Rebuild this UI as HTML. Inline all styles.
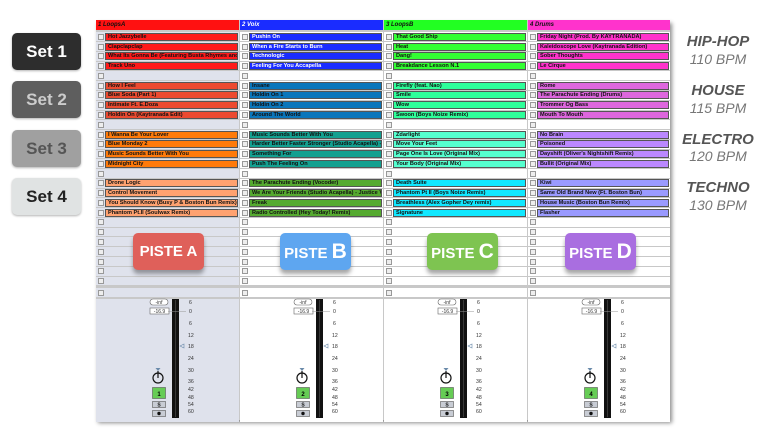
<!DOCTYPE html>
<html><head><meta charset="utf-8"><style>
*{margin:0;padding:0;box-sizing:border-box}
body{width:768px;height:443px;background:#fff;position:relative;overflow:hidden;font-family:"Liberation Sans",sans-serif}
.set{position:absolute;left:12px;width:69px;height:37px;border-radius:5px;font-weight:bold;font-size:17px;text-align:center;line-height:37px;box-shadow:0 1px 2px rgba(0,0,0,.3)}
.g{position:absolute;left:672px;width:92px;text-align:center;font-style:italic;color:#555}
.g1{font-weight:bold;font-size:15px}
.g2{font-size:14px;color:#777;font-weight:normal}
#panel{position:absolute;left:96px;top:20px;width:574px;height:400px;background:#c8c8c8;box-shadow:2px 3px 4px rgba(0,0,0,.45)}
.col{position:absolute;top:0;width:143px;height:400px}
.hd{height:10px;font-size:6px;font-style:italic;font-weight:bold;line-height:10px;padding-left:2px;color:#111;margin-bottom:2.4px}
.r{height:9.78px;position:relative;border-bottom:1px solid #c8c8c8}
.r i{position:absolute;left:2px;top:1.5px;width:6px;height:6px;border:1px solid #999;background:#eee}
.c{position:absolute;left:9px;right:1px;top:0.5px;height:8px;border:1px solid #555;font-size:5.6px;font-weight:bold;line-height:6px;padding-left:2px;white-space:nowrap;overflow:hidden;color:#111}
.e{background:#fff}
.l .e{background:#dfe2ec}
.badge{position:absolute;top:233px;width:71px;height:37px;border-radius:5px;color:#fff;font-weight:bold;font-size:15px;text-align:center;line-height:37px;box-shadow:0 4px 4px rgba(0,0,0,.35)}
.badge b{font-size:21px}
</style></head><body>
<div class="set" style="top:33px;background:#2d2d2d;color:#fff">Set 1</div>
<div class="set" style="top:81px;background:#5e5e5e;color:#ccc">Set 2</div>
<div class="set" style="top:130px;background:#a0a0a0;color:#555">Set 3</div>
<div class="set" style="top:178px;background:#e0e3e3;color:#222">Set 4</div>

<div class="g g1" style="top:33px">HIP-HOP</div><div class="g g2" style="top:51px">110 BPM</div>
<div class="g g1" style="top:82px">HOUSE</div><div class="g g2" style="top:100px">115 BPM</div>
<div class="g g1" style="top:131px">ELECTRO</div><div class="g g2" style="top:148px">120 BPM</div>
<div class="g g1" style="top:179px">TECHNO</div><div class="g g2" style="top:197px">130 BPM</div>

<div id="panel">
<div class="col l" style="left:0">
<div class="hd" style="background:#ff1111">1 LoopsA</div>
<div class="r e"><i></i><div class="c" style="background:#ff1a1a">Hot Jazzybelle</div></div>
<div class="r e"><i></i><div class="c" style="background:#ff1a1a">Clapclapclap</div></div>
<div class="r e"><i></i><div class="c" style="background:#ff1a1a">What Its Gonna Be (Featuring Busta Rhymes and Janelle Monae)</div></div>
<div class="r e"><i></i><div class="c" style="background:#ff1a1a">Track Uno</div></div>
<div class="r e"><i></i></div>
<div class="r e"><i></i><div class="c" style="background:#ec4a30">How I Feel</div></div>
<div class="r e"><i></i><div class="c" style="background:#ec4a30">Blue Soda (Part 1)</div></div>
<div class="r e"><i></i><div class="c" style="background:#ec4a30">Intimate Ft. E.Doza</div></div>
<div class="r e"><i></i><div class="c" style="background:#ec4a30">Holdin On (Kaytranada Edit)</div></div>
<div class="r e"><i></i></div>
<div class="r e"><i></i><div class="c" style="background:#ff7a0a">I Wanna Be Your Lover</div></div>
<div class="r e"><i></i><div class="c" style="background:#ff7a0a">Blue Monday 2</div></div>
<div class="r e"><i></i><div class="c" style="background:#ff7a0a">Music Sounds Better With You</div></div>
<div class="r e"><i></i><div class="c" style="background:#ff7a0a">Midnight City</div></div>
<div class="r e"><i></i></div>
<div class="r e"><i></i><div class="c" style="background:#ffa270">Drone Logic</div></div>
<div class="r e"><i></i><div class="c" style="background:#ffa270">Control Movement</div></div>
<div class="r e"><i></i><div class="c" style="background:#ffa270">You Should Know (Busy P &amp; Boston Bun Remix)</div></div>
<div class="r e"><i></i><div class="c" style="background:#ffa270">Phantom Pt.II (Soulwax Remix)</div></div>
<div class="r e"><i></i></div><div class="r e"><i></i></div><div class="r e"><i></i></div><div class="r e"><i></i></div><div class="r e"><i></i></div><div class="r e"><i></i></div><div class="r e"><i></i></div>
<div style="height:2px"></div>
<div class="r e"><i></i></div>
<div style="height:124px;background:#dfe2ec;border-top:1px solid #c8c8c8"></div>
</div>

<div class="col" style="left:144px">
<div class="hd" style="background:#1a2cff;color:#fff">2 Voix</div>
<div class="r e"><i></i><div class="c" style="background:#1a2cff;color:#fff">Pushin On</div></div>
<div class="r e"><i></i><div class="c" style="background:#1a2cff;color:#fff">When a Fire Starts to Burn</div></div>
<div class="r e"><i></i><div class="c" style="background:#1a2cff;color:#fff">Technologic</div></div>
<div class="r e"><i></i><div class="c" style="background:#1a2cff;color:#fff">Feeling For You Accapella</div></div>
<div class="r e"><i></i></div>
<div class="r e"><i></i><div class="c" style="background:#0a76bb">Insane</div></div>
<div class="r e"><i></i><div class="c" style="background:#0a76bb">Holdin On 1</div></div>
<div class="r e"><i></i><div class="c" style="background:#0a76bb">Holdin On 2</div></div>
<div class="r e"><i></i><div class="c" style="background:#0a76bb">Around The World</div></div>
<div class="r e"><i></i></div>
<div class="r e"><i></i><div class="c" style="background:#13a090">Music Sounds Better With You</div></div>
<div class="r e"><i></i><div class="c" style="background:#13a090">Harder Better Faster Stronger (Studio Acapella) - Daft Punk</div></div>
<div class="r e"><i></i><div class="c" style="background:#13a090">Something For</div></div>
<div class="r e"><i></i><div class="c" style="background:#13a090">Push The Feeling On</div></div>
<div class="r e"><i></i></div>
<div class="r e"><i></i><div class="c" style="background:#55aa30">The Parachute Ending (Vocoder)</div></div>
<div class="r e"><i></i><div class="c" style="background:#55aa30">We Are Your Friends (Studio Acapella) - Justice Vs Simian</div></div>
<div class="r e"><i></i><div class="c" style="background:#55aa30">Freak</div></div>
<div class="r e"><i></i><div class="c" style="background:#55aa30">Radio Controlled (Hey Today! Remix)</div></div>
<div class="r e"><i></i></div><div class="r e"><i></i></div><div class="r e"><i></i></div><div class="r e"><i></i></div><div class="r e"><i></i></div><div class="r e"><i></i></div><div class="r e"><i></i></div>
<div style="height:2px"></div>
<div class="r e"><i></i></div>
<div style="height:124px;background:#fff;border-top:1px solid #c8c8c8"></div>
</div>

<div class="col" style="left:288px">
<div class="hd" style="background:#22ff22">3 LoopsB</div>
<div class="r e"><i></i><div class="c" style="background:#33ff33">That Good Ship</div></div>
<div class="r e"><i></i><div class="c" style="background:#33ff33">Heat</div></div>
<div class="r e"><i></i><div class="c" style="background:#33ff33">Dang!</div></div>
<div class="r e"><i></i><div class="c" style="background:#33ff33">Breakdance Lesson N.1</div></div>
<div class="r e"><i></i></div>
<div class="r e"><i></i><div class="c" style="background:#2eff9a">Firefly (feat. Nao)</div></div>
<div class="r e"><i></i><div class="c" style="background:#2eff9a">Smile</div></div>
<div class="r e"><i></i><div class="c" style="background:#2eff9a">Wow</div></div>
<div class="r e"><i></i><div class="c" style="background:#2eff9a">Swoon (Boys Noize Remix)</div></div>
<div class="r e"><i></i></div>
<div class="r e"><i></i><div class="c" style="background:#55ffcf">Zdarlight</div></div>
<div class="r e"><i></i><div class="c" style="background:#55ffcf">Move Your Feet</div></div>
<div class="r e"><i></i><div class="c" style="background:#55ffcf">Page One Is Love (Original Mix)</div></div>
<div class="r e"><i></i><div class="c" style="background:#55ffcf">Your Body (Original Mix)</div></div>
<div class="r e"><i></i></div>
<div class="r e"><i></i><div class="c" style="background:#11e8ff">Death Suite</div></div>
<div class="r e"><i></i><div class="c" style="background:#11e8ff">Phantom Pt II (Boys Noize Remix)</div></div>
<div class="r e"><i></i><div class="c" style="background:#11e8ff">Breathless (Alex Gopher Dey remix)</div></div>
<div class="r e"><i></i><div class="c" style="background:#11e8ff">Signatune</div></div>
<div class="r e"><i></i></div><div class="r e"><i></i></div><div class="r e"><i></i></div><div class="r e"><i></i></div><div class="r e"><i></i></div><div class="r e"><i></i></div><div class="r e"><i></i></div>
<div style="height:2px"></div>
<div class="r e"><i></i></div>
<div style="height:124px;background:#fff;border-top:1px solid #c8c8c8"></div>
</div>

<div class="col" style="left:432px;width:142px">
<div class="hd" style="background:#ff33cc">4 Drums</div>
<div class="r e"><i></i><div class="c" style="background:#ff33cc">Friday Night (Prod. By KAYTRANADA)</div></div>
<div class="r e"><i></i><div class="c" style="background:#ff33cc">Kaleidoscope Love (Kaytranada Edition)</div></div>
<div class="r e"><i></i><div class="c" style="background:#ff33cc">Sober Thoughts</div></div>
<div class="r e"><i></i><div class="c" style="background:#ff33cc">Le Cirque</div></div>
<div class="r e"><i></i></div>
<div class="r e"><i></i><div class="c" style="background:#dd66dd">Rome</div></div>
<div class="r e"><i></i><div class="c" style="background:#dd66dd">The Parachute Ending (Drums)</div></div>
<div class="r e"><i></i><div class="c" style="background:#dd66dd">Trommer Og Bass</div></div>
<div class="r e"><i></i><div class="c" style="background:#dd66dd">Mouth To Mouth</div></div>
<div class="r e"><i></i></div>
<div class="r e"><i></i><div class="c" style="background:#bb88ff">No Brain</div></div>
<div class="r e"><i></i><div class="c" style="background:#bb88ff">Poisoned</div></div>
<div class="r e"><i></i><div class="c" style="background:#bb88ff">Dayshift (Oliver's Nightshift Remix)</div></div>
<div class="r e"><i></i><div class="c" style="background:#bb88ff">Bullit (Original Mix)</div></div>
<div class="r e"><i></i></div>
<div class="r e"><i></i><div class="c" style="background:#9a9aff">Kiwi</div></div>
<div class="r e"><i></i><div class="c" style="background:#9a9aff">Same Old Brand New (Ft. Boston Bun)</div></div>
<div class="r e"><i></i><div class="c" style="background:#9a9aff">House Music (Boston Bun Remix)</div></div>
<div class="r e"><i></i><div class="c" style="background:#9a9aff">Flasher</div></div>
<div class="r e"><i></i></div><div class="r e"><i></i></div><div class="r e"><i></i></div><div class="r e"><i></i></div><div class="r e"><i></i></div><div class="r e"><i></i></div><div class="r e"><i></i></div>
<div style="height:2px"></div>
<div class="r e"><i></i></div>
<div style="height:124px;background:#fff;border-top:1px solid #c8c8c8"></div>
</div>
</div>

<svg style="position:absolute;left:0;top:0" width="768" height="443" font-family="Liberation Sans, sans-serif">
<defs>
<g id="mx">
<rect x="54" y="299" width="18" height="6" rx="3" fill="#fff" stroke="#666" stroke-width="0.6"/>
<text x="63" y="304" font-size="5" text-anchor="middle" fill="#333">-inf</text>
<rect x="54" y="308" width="19" height="6" fill="#fff" stroke="#666" stroke-width="0.6"/>
<text x="63.5" y="313" font-size="5" text-anchor="middle" fill="#333">-16.9</text>
<rect x="76" y="299" width="7" height="119" fill="#111"/>
<line x1="79.5" y1="300" x2="79.5" y2="417" stroke="#555" stroke-width="0.6"/>
<line x1="72" y1="311.5" x2="90" y2="311.5" stroke="#999" stroke-width="0.5"/>
<path d="M84 346 L88 344 L88 348 Z" fill="none" stroke="#6a8aaa" stroke-width="0.6"/>
<g font-size="5.2" fill="#333">
<text x="93" y="304">6</text><text x="93" y="313">0</text><text x="93" y="325">6</text><text x="92" y="337">12</text><text x="92" y="348">18</text><text x="92" y="360">24</text><text x="92" y="372">30</text><text x="92" y="383">36</text><text x="92" y="391">42</text><text x="92" y="399">48</text><text x="92" y="406">54</text><text x="92" y="413">60</text>
</g>
<circle cx="62" cy="378" r="5" fill="none" stroke="#111" stroke-width="1.2"/>
<line x1="62" y1="378" x2="62" y2="371" stroke="#111" stroke-width="1.2"/>
<path d="M59.5 368 L64.5 368 L62 371 Z" fill="#6a8aaa"/>
<rect x="56.5" y="387.5" width="13" height="11" fill="#66cc55" stroke="#555" stroke-width="0.6"/>
<rect x="56.5" y="401.5" width="13" height="6" fill="#c8ccd4" stroke="#555" stroke-width="0.6"/>
<text x="63" y="406.5" font-size="5" text-anchor="middle" fill="#111" font-weight="bold">S</text>
<rect x="56.5" y="410.5" width="13" height="6" fill="#c8ccd4" stroke="#555" stroke-width="0.6"/>
<circle cx="63" cy="413.5" r="1.7" fill="#111"/>
</g>
</defs>
<g transform="translate(96,0)"><use href="#mx"/><text x="63" y="396" font-size="6" font-weight="bold" text-anchor="middle">1</text></g>
<g transform="translate(240,0)"><use href="#mx"/><text x="63" y="396" font-size="6" font-weight="bold" text-anchor="middle">2</text></g>
<g transform="translate(384,0)"><use href="#mx"/><text x="63" y="396" font-size="6" font-weight="bold" text-anchor="middle">3</text></g>
<g transform="translate(528,0)"><use href="#mx"/><text x="63" y="396" font-size="6" font-weight="bold" text-anchor="middle">4</text></g>
</svg>

<div class="badge" style="left:133px;background:#df605a">PISTE A</div>
<div class="badge" style="left:280px;background:#5ea6f0">PISTE <b>B</b></div>
<div class="badge" style="left:427px;background:#7ec451">PISTE <b>C</b></div>
<div class="badge" style="left:565px;background:#a96ee0">PISTE <b>D</b></div>
</body></html>
